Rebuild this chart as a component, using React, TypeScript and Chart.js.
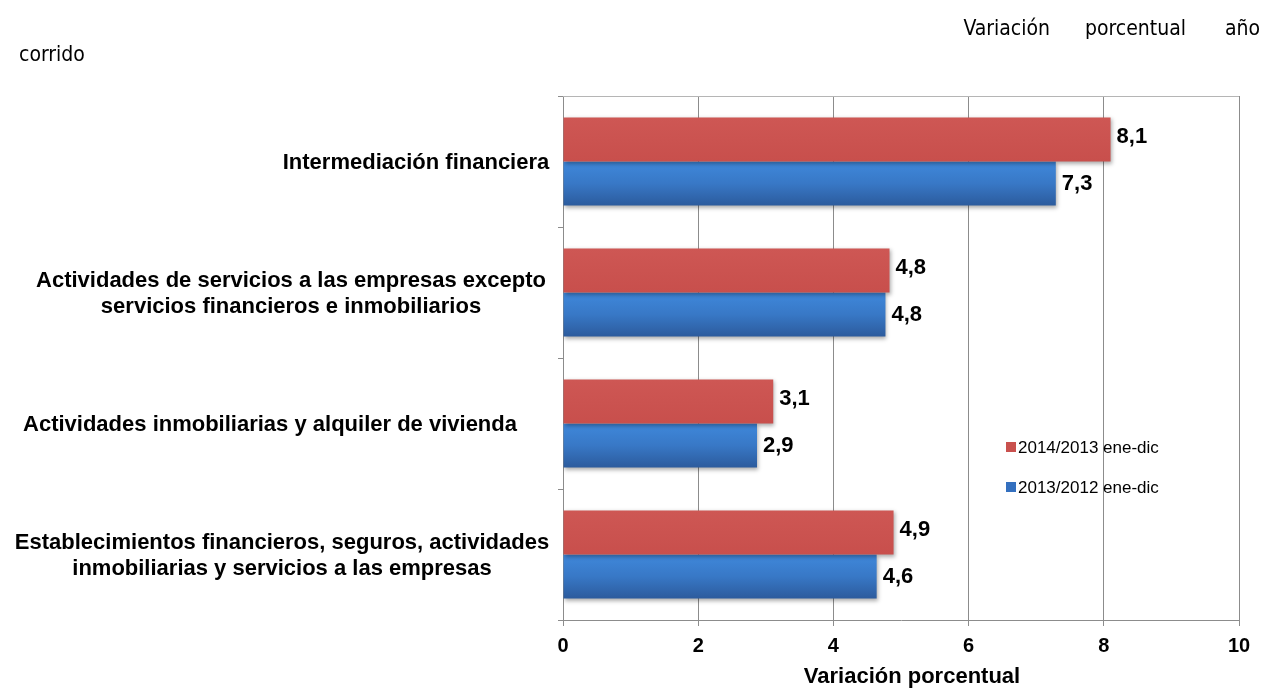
import React, { useEffect, useRef } from 'react';
import { Chart, registerables } from 'chart.js';

Chart.register(...registerables);

// ---------- data ----------
const categories: string[][] = [
  ['Intermediación financiera'],
  ['Actividades de servicios a las empresas excepto', 'servicios financieros e inmobiliarios'],
  ['Actividades inmobiliarias y alquiler de vivienda'],
  ['Establecimientos financieros, seguros, actividades', 'inmobiliarias y servicios a las empresas'],
];
const seriesNames = ['2014/2013 ene-dic', '2013/2012 ene-dic'];
const values2014_2013 = [8.1, 4.83, 3.11, 4.89];
const values2013_2012 = [7.29, 4.77, 2.87, 4.64];
const xTickValues = [0, 2, 4, 6, 8, 10];
const xAxisTitle = 'Variación porcentual';
const headerWords = ['Variación', 'porcentual', 'año'];
const headerSecondLine = 'corrido';

// ---------- layout / style ----------
const W = 1269;
const H = 688;
const LABEL_CENTER_X = [416, 291, 270, 282];
const GRID = '#8c8c8c';
const BOLD = 'bold 22px "Liberation Sans", Arial, sans-serif';
const HEADER_FONT = '"DejaVu Sans Condensed", "DejaVu Sans", sans-serif';

const fmt = (v: number) => v.toFixed(1).replace('.', ',');

const customPlugin = {
  id: 'customDraw',
  beforeDatasetsDraw(chart: any) {
    const ctx = chart.ctx;
    chart.data.datasets.forEach((_: any, i: number) => {
      const meta = chart.getDatasetMeta(i);
      meta.data.forEach((bar: any) => {
        const h = bar.height;
        const top = bar.y - h / 2;
        const g = ctx.createLinearGradient(0, top, 0, top + h);
        if (i === 0) {
          g.addColorStop(0, '#ce5754');
          g.addColorStop(1, '#c84f4c');
        } else {
          g.addColorStop(0, '#3f88db');
          g.addColorStop(0.5, '#3878c6');
          g.addColorStop(1, '#2c5b9d');
        }
        bar.options = Object.assign({}, bar.options, { backgroundColor: g });
      });
    });
    // top border line
    const a = chart.chartArea;
    ctx.save();
    ctx.strokeStyle = '#b5b5b5';
    ctx.lineWidth = 1;
    ctx.beginPath();
    ctx.moveTo(a.left, a.top + 0.5);
    ctx.lineTo(a.right, a.top + 0.5);
    ctx.stroke();
    ctx.restore();
  },
  beforeDatasetDraw(chart: any) {
    const ctx = chart.ctx;
    ctx.save();
    ctx.shadowColor = 'rgba(0,0,0,0.32)';
    ctx.shadowBlur = 4;
    ctx.shadowOffsetX = 1;
    ctx.shadowOffsetY = 2;
  },
  afterDatasetDraw(chart: any) {
    chart.ctx.restore();
  },
  afterDraw(chart: any) {
    const ctx = chart.ctx;
    const a = chart.chartArea;
    const yScale = chart.scales.y;
    ctx.save();
    // data labels
    ctx.font = BOLD;
    ctx.fillStyle = '#000';
    ctx.textAlign = 'left';
    ctx.textBaseline = 'middle';
    chart.data.datasets.forEach((ds: any, i: number) => {
      const meta = chart.getDatasetMeta(i);
      meta.data.forEach((bar: any, j: number) => {
        ctx.fillText(fmt(ds.data[j]), bar.x + 6, bar.y - (i === 0 ? 3 : 0));
      });
    });
    // category labels
    ctx.textAlign = 'center';
    categories.forEach((lines, i) => {
      const cy = yScale.getPixelForValue(i);
      const lh = 26;
      const y0 = cy - ((lines.length - 1) * lh) / 2;
      lines.forEach((t, k) => ctx.fillText(t, LABEL_CENTER_X[i], y0 + k * lh + 1));
    });
    // x axis title
    ctx.fillText(xAxisTitle, 912, 677);
    // legend
    const colors = ['#c9514e', '#3470bf'];
    ctx.font = '17px "Liberation Sans", Arial, sans-serif';
    ctx.textAlign = 'left';
    seriesNames.forEach((name, i) => {
      const ly = a.top + 351 + i * 40;
      ctx.fillStyle = colors[i];
      ctx.fillRect(a.left + 443, ly - 5, 10, 10);
      ctx.fillStyle = '#000';
      ctx.fillText(name, a.left + 455, ly + 1);
    });
    ctx.restore();
  },
};

export default function App() {
  const ref = useRef<HTMLCanvasElement | null>(null);

  useEffect(() => {
    if (!ref.current) return;
    const chart = new Chart(ref.current, {
      type: 'bar',
      data: {
        labels: categories.map((c) => c.join(' ')),
        datasets: [
          {
            label: seriesNames[0],
            data: values2014_2013,
            backgroundColor: '#c9514e',
            categoryPercentage: 0.672,
            barPercentage: 1,
          },
          {
            label: seriesNames[1],
            data: values2013_2012,
            backgroundColor: '#3470bf',
            categoryPercentage: 0.672,
            barPercentage: 1,
          },
        ],
      },
      options: {
        indexAxis: 'y',
        responsive: false,
        animation: false,
        devicePixelRatio: 1,
        layout: { padding: { top: 96, right: 30, left: 0, bottom: 0 } },
        plugins: {
          legend: { display: false },
          tooltip: { enabled: false },
          title: { display: false },
        },
        scales: {
          x: {
            min: 0,
            max: 10,
            afterBuildTicks: (s: any) => {
              s.ticks = xTickValues.map((v) => ({ value: v }));
            },
            afterFit: (s: any) => {
              s.height = 68;
            },
            grid: {
              color: GRID,
              lineWidth: 1,
              tickLength: 6,
              tickColor: GRID,
              drawOnChartArea: true,
            },
            border: { display: true, color: GRID, width: 1 },
            ticks: {
              color: '#000',
              font: { family: '"Liberation Sans", Arial, sans-serif', size: 20, weight: 'bold' },
              padding: 8,
              maxRotation: 0,
            },
          },
          y: {
            afterFit: (s: any) => {
              s.width = 563;
            },
            grid: {
              offset: true,
              drawOnChartArea: false,
              tickLength: 5,
              tickColor: GRID,
              color: GRID,
            },
            border: { display: true, color: GRID, width: 1 },
            ticks: { display: false },
          },
        },
      },
      plugins: [customPlugin],
    } as any);
    return () => chart.destroy();
  }, []);

  const wordStyle: React.CSSProperties = {
    position: 'absolute',
    fontFamily: HEADER_FONT,
    fontSize: 21,
    lineHeight: '21px',
    color: '#000',
    whiteSpace: 'nowrap',
  };

  return (
    <div style={{ position: 'absolute', left: 0, top: 0, width: W, height: H, background: '#fff' }}>
      <canvas ref={ref} width={W} height={H} style={{ position: 'absolute', left: 0, top: 0, width: W, height: H }} />
      <span style={{ ...wordStyle, right: W - 1050, top: 18 }}>{headerWords[0]}</span>
      <span style={{ ...wordStyle, left: 1085, top: 18 }}>{headerWords[1]}</span>
      <span style={{ ...wordStyle, left: 1225, top: 18 }}>{headerWords[2]}</span>
      <span style={{ ...wordStyle, left: 19, top: 44 }}>{headerSecondLine}</span>
    </div>
  );
}
